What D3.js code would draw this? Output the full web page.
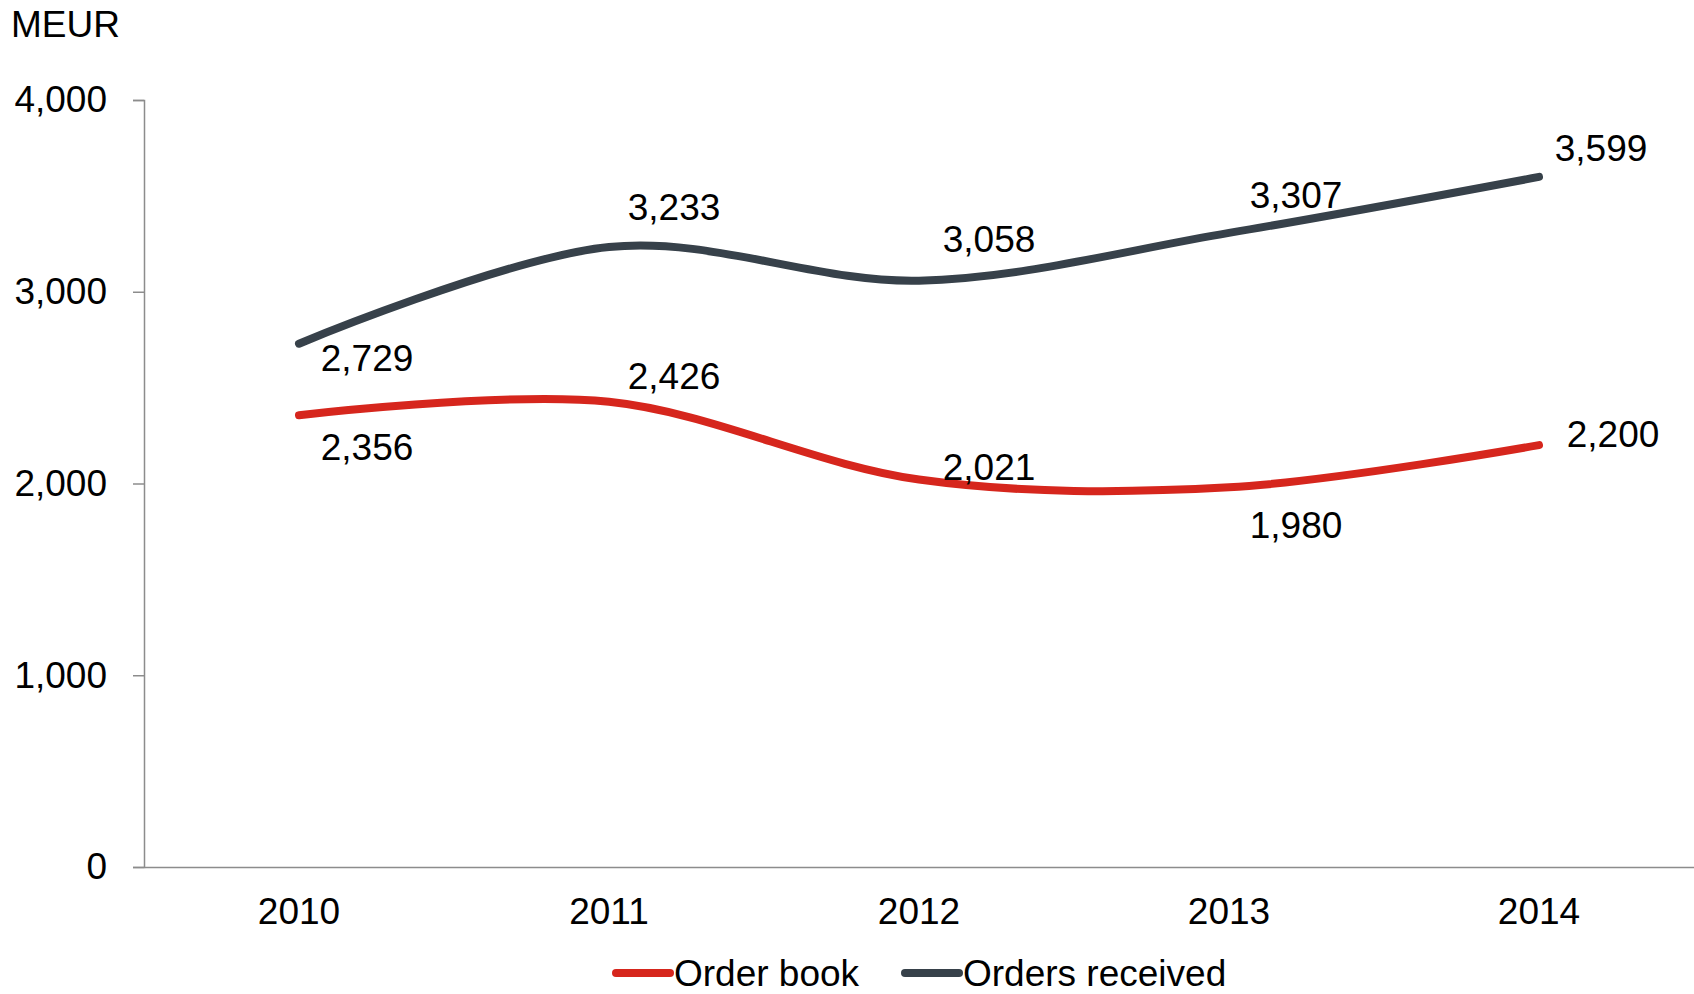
<!DOCTYPE html>
<html>
<head>
<meta charset="utf-8">
<script src="https://cdn.jsdelivr.net/npm/d3@7"></script>
<style>
  html, body { margin: 0; padding: 0; background: #fff; }
  svg { display: block; }
  text { font-family: "Liberation Sans", Arial, sans-serif; fill: #000; }
</style>
</head>
<body>
<svg id="chart" width="1694" height="994"></svg>
<script>
// ---- data ----
const years = ["2010", "2011", "2012", "2013", "2014"];
const orderBook = [2356, 2426, 2021, 1980, 2200];
const ordersReceived = [2729, 3233, 3058, 3307, 3599];
const yTicks = [0, 1000, 2000, 3000, 4000];
const seriesNames = ["Order book", "Orders received"];
const unitLabel = "MEUR";

// ---- style / layout ----
const W = 1694, H = 994;
const M = { top: 100, bottom: 867, left: 144, right: 1694 };
const colors = { "Order book": "#D6261D", "Orders received": "#37414A" };
const fontSize = 37;
// label offsets (dx, dy of label centre relative to point)
const labelOffsets = {
  "Order book":      [[68, 32], [65, -26], [70, -12], [67, 38], [74, -11]],
  "Orders received": [[68, 14], [65, -40], [70, -42], [67, -38], [62, -29]]
};

const svg = d3.select("#chart");
const x = d3.scaleBand().domain(years).range([M.left, M.right]);
const y = d3.scaleLinear().domain([0, 4000]).range([M.bottom, M.top]);
const fmt = d3.format(",");

// y axis
const yAxis = d3.axisLeft(y).tickValues(yTicks).tickFormat(fmt).tickSize(11).tickPadding(26);
const gy = svg.append("g").attr("transform", `translate(${M.left},0)`).call(yAxis);
gy.select(".domain").attr("stroke", "#8C8C8C").attr("stroke-width", 1.5);
gy.selectAll(".tick line").attr("stroke", "#8C8C8C").attr("stroke-width", 1.5);
gy.selectAll(".tick text").attr("font-size", fontSize).attr("font-family", "Liberation Sans, Arial, sans-serif").attr("fill", "#000");

// x axis
const xAxis = d3.axisBottom(x).tickSize(0).tickPadding(44);
const gx = svg.append("g").attr("transform", `translate(0,${M.bottom})`).call(xAxis);
gx.select(".domain").attr("stroke", "#8C8C8C").attr("stroke-width", 1.5);
gx.selectAll(".tick text").attr("font-size", fontSize).attr("font-family", "Liberation Sans, Arial, sans-serif").attr("fill", "#000").attr("dy", "0.35em");

// unit label
svg.append("text").attr("x", 11).attr("y", 37).attr("font-size", fontSize).text(unitLabel);

// lines
const series = [
  { name: "Order book", values: orderBook },
  { name: "Orders received", values: ordersReceived }
];
const line = d3.line()
  .x((d, i) => x(years[i]) + x.bandwidth() / 2)
  .y(d => y(d))
  .curve(d3.curveCardinal.tension(0));

series.forEach(s => {
  svg.append("path")
    .datum(s.values)
    .attr("d", line)
    .attr("fill", "none")
    .attr("stroke", colors[s.name])
    .attr("stroke-width", 8)
    .attr("stroke-linecap", "round")
    .attr("stroke-linejoin", "round");
});

// data labels
series.forEach(s => {
  svg.append("g").selectAll("text")
    .data(s.values)
    .join("text")
    .attr("x", (d, i) => x(years[i]) + x.bandwidth() / 2 + labelOffsets[s.name][i][0])
    .attr("y", (d, i) => y(d) + labelOffsets[s.name][i][1])
    .attr("dy", "0.35em")
    .attr("text-anchor", "middle")
    .attr("font-size", fontSize)
    .text(d => fmt(d));
});

// legend
const legendY = 973;
const legendItems = [
  { name: seriesNames[0], x0: 616 },
  { name: seriesNames[1], x0: 905 }
];
const lg = svg.append("g");
legendItems.forEach(it => {
  lg.append("line")
    .attr("x1", it.x0).attr("x2", it.x0 + 54)
    .attr("y1", legendY).attr("y2", legendY)
    .attr("stroke", colors[it.name]).attr("stroke-width", 8).attr("stroke-linecap", "round");
  lg.append("text")
    .attr("x", it.x0 + 58).attr("y", legendY).attr("dy", "0.35em")
    .attr("font-size", fontSize).text(it.name);
});
</script>
</body>
</html>
